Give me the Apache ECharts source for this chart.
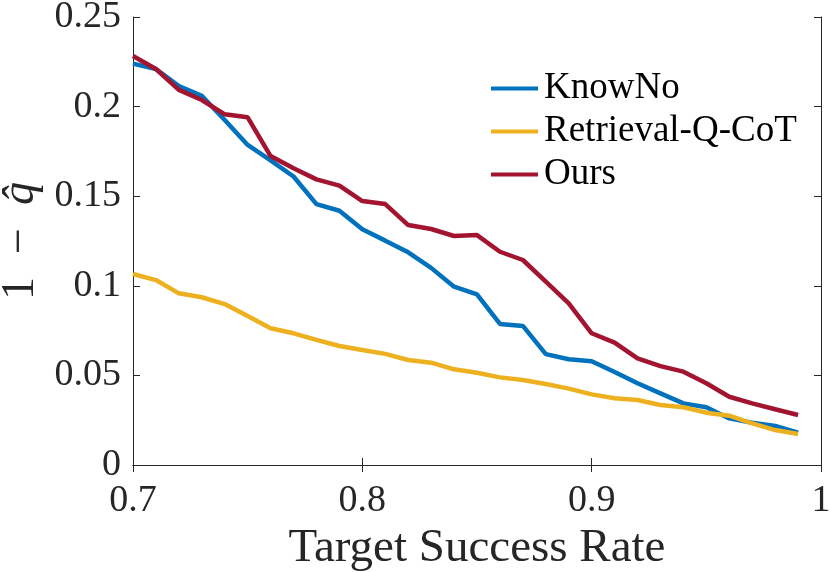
<!DOCTYPE html>
<html>
<head>
<meta charset="utf-8">
<script src="https://cdn.jsdelivr.net/npm/echarts@6/dist/echarts.min.js"></script>
<style>
  html, body { margin: 0; padding: 0; background: #fff; }
  #chart { width: 830px; height: 572px; }
</style>
</head>
<body>
<div id="chart"></div>
<script>
// target success rate (x)
var targetRate = [0.70, 0.71, 0.72, 0.73, 0.74, 0.75, 0.76, 0.77, 0.78, 0.79,
                  0.80, 0.81, 0.82, 0.83, 0.84, 0.85, 0.86, 0.87, 0.88, 0.89,
                  0.90, 0.91, 0.92, 0.93, 0.94, 0.95, 0.96, 0.97, 0.98, 0.99];

// 1 - q_hat for each method
var knowNo = [0.2240, 0.2210, 0.2115, 0.2060, 0.1925, 0.1786, 0.1700, 0.1610, 0.1456, 0.1419,
              0.1315, 0.1252, 0.1187, 0.1100, 0.0995, 0.0952, 0.0787, 0.0776, 0.0619, 0.0590,
              0.0579, 0.0519, 0.0456, 0.0400, 0.0344, 0.0322, 0.0260, 0.0236, 0.0218, 0.0180];
var retrievalQCoT = [0.1066, 0.1032, 0.0958, 0.0936, 0.0898, 0.0831, 0.0763, 0.0735, 0.0698, 0.0664,
                     0.0642, 0.0620, 0.0586, 0.0571, 0.0534, 0.0515, 0.0489, 0.0474, 0.0452, 0.0426,
                     0.0394, 0.0372, 0.0363, 0.0335, 0.0322, 0.0292, 0.0275, 0.0232, 0.0195, 0.0173];
var ours = [0.2282, 0.2210, 0.2093, 0.2037, 0.1957, 0.1940, 0.1724, 0.1656, 0.1594, 0.1559,
            0.1473, 0.1456, 0.1339, 0.1317, 0.1278, 0.1283, 0.1190, 0.1144, 0.1023, 0.0902,
            0.0735, 0.0683, 0.0595, 0.0552, 0.0521, 0.0456, 0.0381, 0.0344, 0.0311, 0.0279];

var seriesNames = ['KnowNo', 'Retrieval-Q-CoT', 'Ours'];
var xTicks = ['0.7', '0.8', '0.9', '1'];
var yTicks = ['0', '0.05', '0.1', '0.15', '0.2', '0.25'];

var colors = ['#0072BD', '#EDB120', '#A2142F'];
var fontFam = '"Liberation Serif", "DejaVu Serif", serif';
var axisColor = '#262626';

function pairs(ys) {
    var out = [];
    for (var i = 0; i < targetRate.length; i++) {
        out.push([targetRate[i], ys[i]]);
    }
    return out;
}

function tickLabel(list, min, step) {
    return function (v) {
        var idx = Math.round((v - min) / step);
        return list[idx] !== undefined ? list[idx] : '';
    };
}

var myChart = echarts.init(document.getElementById('chart'), null, {renderer: 'canvas'});

var baseAxis = {
    axisLine: {show: true, lineStyle: {color: axisColor, width: 1}},
    axisTick: {show: true, inside: true, length: 7, lineStyle: {color: axisColor}},
    splitLine: {show: false}
};

var option = {
    backgroundColor: '#fff',
    animation: false,
    color: colors,
    grid: {left: 133, right: 9, top: 17, bottom: 107, containLabel: false, outerBoundsMode: 'none'},
    legend: {
        orient: 'vertical',
        left: 491,
        top: 70,
        padding: 0,
        icon: 'rect',
        itemWidth: 47,
        itemHeight: 4,
        itemGap: 6,
        data: seriesNames,
        textStyle: {fontFamily: fontFam, fontSize: 37, color: '#000', lineHeight: 36, padding: [0, 0, 0, 1]}
    },
    xAxis: [
        Object.assign({}, baseAxis, {
            type: 'value', min: 0.7, max: 1, interval: 0.1, position: 'bottom',
            name: 'Target Success Rate', nameLocation: 'middle', nameGap: 57,
            nameTextStyle: {fontFamily: fontFam, fontSize: 47, color: axisColor},
            axisLabel: {margin: 17, fontFamily: fontFam, fontSize: 38, color: axisColor,
                        formatter: tickLabel(xTicks, 0.7, 0.1)}
        }),
        Object.assign({}, baseAxis, {
            type: 'value', min: 0.7, max: 1, interval: 0.1, position: 'top',
            axisLabel: {show: false}
        })
    ],
    yAxis: [
        Object.assign({}, baseAxis, {
            type: 'value', min: 0, max: 0.25, interval: 0.05, position: 'left',
            name: '1  −  {q|q̂}', nameLocation: 'middle', nameGap: 88, nameRotate: 90,
            nameTextStyle: {
                fontFamily: fontFam, fontSize: 46, color: axisColor,
                rich: {q: {fontFamily: fontFam, fontSize: 46, fontStyle: 'italic', color: axisColor}}
            },
            axisLabel: {margin: 12, fontFamily: fontFam, fontSize: 38, color: axisColor,
                        formatter: tickLabel(yTicks, 0, 0.05)}
        }),
        Object.assign({}, baseAxis, {
            type: 'value', min: 0, max: 0.25, interval: 0.05, position: 'right',
            axisLabel: {show: false}
        })
    ],
    series: [
        {name: seriesNames[0], type: 'line', data: pairs(knowNo), showSymbol: false,
         lineStyle: {width: 4.5}, z: 2},
        {name: seriesNames[1], type: 'line', data: pairs(retrievalQCoT), showSymbol: false,
         lineStyle: {width: 4.5}, z: 3},
        {name: seriesNames[2], type: 'line', data: pairs(ours), showSymbol: false,
         lineStyle: {width: 4.5}, z: 4}
    ]
};

myChart.setOption(option, true);
</script>
</body>
</html>
